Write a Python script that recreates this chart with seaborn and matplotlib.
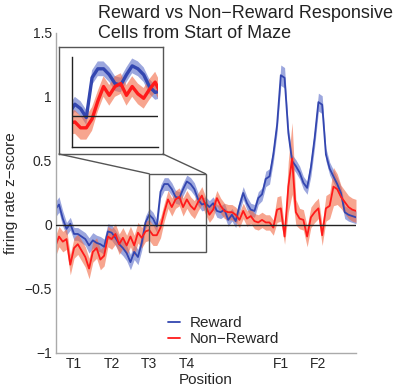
# -------------------- IMPORTS --------------------
import numpy as np
import matplotlib
matplotlib.use("Agg")
import matplotlib.pyplot as plt
import seaborn as sns
from matplotlib.patches import Rectangle, ConnectionPatch

sns.set_style("white")
plt.rcParams['font.family'] = ['Liberation Sans', 'DejaVu Sans']


# -------------------- DATA --------------------
# spatial bins along the maze (T = turn, F = feeder)
position = np.arange(5, 86)

reward_mean = [
    0.12, 0.16, 0.05, -0.03, 0.01, -0.07, -0.07, -0.09, -0.11, -0.16,
    -0.12, -0.14, -0.15, -0.17, -0.05, -0.06, -0.10, -0.15, -0.18, -0.22,
    -0.29, -0.21, -0.25, -0.14, 0.02, 0.08, 0.05, -0.01, 0.26, 0.32,
    0.32, 0.28, 0.22, 0.21, 0.28, 0.34, 0.32, 0.28, 0.20, 0.16,
    0.17, 0.14, 0.17, 0.11, 0.10, 0.12, 0.04, 0.08, 0.03, 0.15,
    0.25, 0.17, 0.12, 0.11, 0.21, 0.24, 0.36, 0.38, 0.55, 0.78,
    1.17, 1.15, 0.72, 0.50, 0.46, 0.41, 0.33, 0.29, 0.45, 0.68,
    0.96, 0.94, 0.55, 0.44, 0.38, 0.32, 0.25, 0.10, 0.08, 0.07,
    0.06,
]
reward_sem = [
    0.06, 0.06, 0.06, 0.05, 0.05, 0.05, 0.05, 0.05, 0.05, 0.06,
    0.06, 0.06, 0.06, 0.06, 0.06, 0.06, 0.06, 0.06, 0.06, 0.06,
    0.06, 0.06, 0.06, 0.06, 0.05, 0.05, 0.05, 0.05, 0.05, 0.05,
    0.05, 0.05, 0.05, 0.05, 0.05, 0.05, 0.05, 0.05, 0.05, 0.05,
    0.05, 0.05, 0.05, 0.05, 0.05, 0.05, 0.05, 0.05, 0.05, 0.05,
    0.05, 0.05, 0.05, 0.05, 0.05, 0.05, 0.06, 0.06, 0.06, 0.06,
    0.08, 0.08, 0.05, 0.05, 0.05, 0.05, 0.05, 0.05, 0.07, 0.07,
    0.07, 0.07, 0.05, 0.05, 0.05, 0.05, 0.05, 0.05, 0.05, 0.05,
    0.05,
]

nonreward_mean = [
    -0.17, -0.09, -0.13, -0.11, -0.31, -0.18, -0.15, -0.20, -0.25, -0.34,
    -0.21, -0.18, -0.27, -0.24, -0.09, -0.11, -0.07, -0.15, -0.10, -0.16,
    -0.09, -0.16, -0.06, -0.10, -0.05, -0.04, -0.08, -0.08, -0.02, 0.10,
    0.20, 0.14, 0.20, 0.22, 0.14, 0.20, 0.15, 0.12, 0.18, 0.23,
    0.15, 0.08, 0.12, 0.21, 0.15, 0.11, 0.10, 0.10, 0.08, 0.04,
    0.11, 0.05, 0.07, 0.03, 0.02, 0.04, 0.02, 0.02, -0.02, 0.12,
    0.13, -0.09, 0.30, 0.52, 0.10, 0.05, 0.04, -0.09, 0.06, 0.10,
    0.13, -0.08, 0.13, 0.15, 0.30, 0.28, 0.22, 0.18, 0.14, 0.12,
    0.11,
]
nonreward_sem = [
    0.08, 0.08, 0.08, 0.08, 0.08, 0.08, 0.08, 0.08, 0.08, 0.08,
    0.08, 0.08, 0.08, 0.08, 0.08, 0.08, 0.08, 0.08, 0.08, 0.08,
    0.08, 0.08, 0.08, 0.08, 0.08, 0.08, 0.08, 0.08, 0.08, 0.07,
    0.07, 0.07, 0.07, 0.07, 0.07, 0.07, 0.07, 0.07, 0.07, 0.07,
    0.07, 0.06, 0.06, 0.06, 0.06, 0.06, 0.06, 0.06, 0.06, 0.06,
    0.06, 0.06, 0.06, 0.06, 0.06, 0.06, 0.06, 0.06, 0.06, 0.10,
    0.10, 0.06, 0.20, 0.28, 0.10, 0.08, 0.08, 0.08, 0.08, 0.08,
    0.08, 0.08, 0.10, 0.10, 0.15, 0.12, 0.09, 0.09, 0.09, 0.09,
    0.09,
]

tick_pos = [10, 20, 30, 40, 65, 75]
tick_labels = ['T1', 'T2', 'T3', 'T4', 'F1', 'F2']

y_ticks = [-1, -0.5, 0, 0.5, 1, 1.5]
y_tick_labels = ['\u22121', '\u22120.5', '0', '0.5', '1', '1.5']

title = "Reward vs Non\u2212Reward Responsive\nCells from Start of Maze"

# colours
blue_line = '#3346b0'
blue_band = '#5b6cc8'
red_line = '#ff1a1a'
red_band = '#f26a45'


def draw_series(axis, lw, legend):
    r_lo = np.array(reward_mean) - np.array(reward_sem)
    r_hi = np.array(reward_mean) + np.array(reward_sem)
    n_lo = np.array(nonreward_mean) - np.array(nonreward_sem)
    n_hi = np.array(nonreward_mean) + np.array(nonreward_sem)

    axis.fill_between(position, r_lo, r_hi, color=blue_band, alpha=0.6, lw=0)
    sns.lineplot(x=position, y=reward_mean, ax=axis, color=blue_line, lw=lw,
                 label='Reward' if legend else None, legend=legend)
    axis.fill_between(position, n_lo, n_hi, color=red_band, alpha=0.6, lw=0)
    sns.lineplot(x=position, y=nonreward_mean, ax=axis, color=red_line, lw=lw,
                 label='Non\u2212Reward' if legend else None, legend=legend)
    axis.axhline(0, color='#222222', lw=1, zorder=5)


# -------------------- FIGURE --------------------
W, H = 397, 387
fig = plt.figure(figsize=(W / 100, H / 100), dpi=100)

ax = fig.add_axes([56 / W, 1 - 353 / H, 300 / W, 320 / H])
draw_series(ax, 1.3, True)

ax.set_xlim(5.2, 85)
ax.set_ylim(-1, 1.5)
ax.set_xticks(tick_pos)
ax.set_xticklabels(tick_labels, fontsize=10)
ax.set_yticks(y_ticks)
ax.set_yticklabels(y_tick_labels, fontsize=10)
ax.tick_params(direction='in', length=3, color='#999999', pad=3)
for s in ['top', 'right']:
    ax.spines[s].set_visible(False)
for s in ['left', 'bottom']:
    ax.spines[s].set_color('#aaaaaa')
    ax.spines[s].set_linewidth(1)

ax.set_xlabel('Position', fontsize=11, labelpad=1)
ax.set_ylabel('firing rate z\u2212score', fontsize=11)
ax.yaxis.set_label_coords(-0.125, 0.5)

ax.legend(loc='upper left', bbox_to_anchor=(0.373, 0.115), frameon=False,
          fontsize=11, handlelength=0.8, handletextpad=0.6,
          borderpad=0, borderaxespad=0, labelspacing=0.15)

# zoom rectangle
ax.add_patch(Rectangle((30, -0.21), 15, 0.61, fill=False,
                       edgecolor='#555555', lw=1, zorder=6))

# -------------------- INSET --------------------
frame = fig.add_axes([59 / W, 1 - 154 / H, 104 / W, 107 / H])
frame.set_xticks([])
frame.set_yticks([])
frame.set_facecolor('white')
for s in frame.spines.values():
    s.set_color('#555555')
    s.set_linewidth(1)

inset = fig.add_axes([72 / W, 1 - 147 / H, 86 / W, 90 / H])
inset.patch.set_alpha(0)
draw_series(inset, 2.4, False)
inset.set_xlim(29.5, 44.5)
inset.set_ylim(-0.21, 0.40)
inset.set_xticks([40])
inset.set_xticklabels([])
inset.set_yticks([])
inset.tick_params(direction='in', length=3, color='#222222')
for s in ['top', 'right']:
    inset.spines[s].set_visible(False)
for s in ['left', 'bottom']:
    inset.spines[s].set_color('#222222')
    inset.spines[s].set_linewidth(1)

for xa, xb in [(30, 0), (45, 1)]:
    con = ConnectionPatch(xyA=(xa, 0.40), coordsA=ax.transData,
                          xyB=(xb, 0), coordsB=frame.transAxes,
                          color='#555555', lw=1)
    fig.add_artist(con)

fig.text(98 / W, 1 - 5 / H, title, ha='left', va='top', fontsize=13,
         color='#222222', linespacing=1.25)

fig.savefig('out.png', dpi=100)
